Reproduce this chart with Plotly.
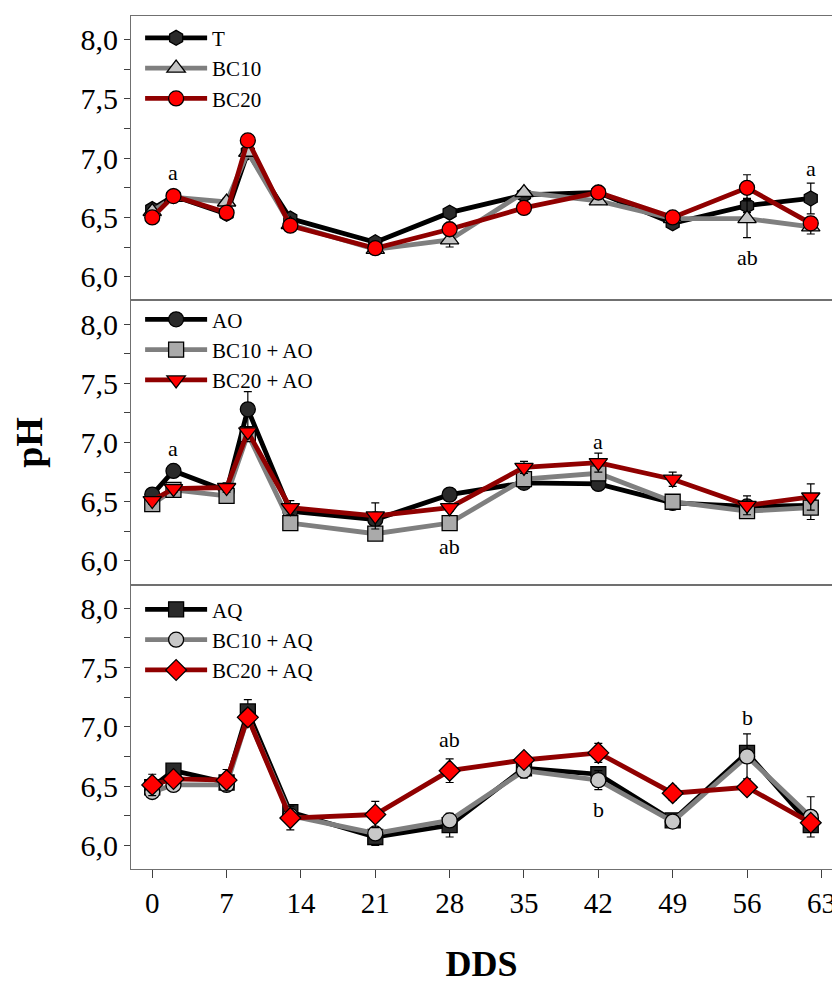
import plotly.graph_objects as go
from plotly.subplots import make_subplots

# ---------------- data ----------------
days = [0, 2, 7, 9, 13, 21, 28, 35, 42, 49, 56, 62]
x_ticks = [0, 7, 14, 21, 28, 35, 42, 49, 56, 63]
y_ticks = [6.0, 6.5, 7.0, 7.5, 8.0]
y_tick_labels = ["6,0", "6,5", "7,0", "7,5", "8,0"]

# panel 1
T = [6.57, 6.68, 6.53, 7.05, 6.49, 6.29, 6.54, 6.69, 6.71, 6.45, 6.60, 6.66]
T_err = [0.03, 0.03, 0.03, 0.04, 0.03, 0.03, 0.03, 0.03, 0.03, 0.03, 0.06, 0.13]
BC10 = [6.55, 6.67, 6.63, 7.05, 6.44, 6.23, 6.31, 6.71, 6.64, 6.49, 6.49, 6.42]
BC10_err = [0.03, 0.03, 0.03, 0.04, 0.03, 0.03, 0.06, 0.03, 0.03, 0.03, 0.16, 0.06]
BC20 = [6.50, 6.68, 6.54, 7.15, 6.43, 6.24, 6.40, 6.58, 6.71, 6.50, 6.75, 6.45]
BC20_err = [0.03, 0.03, 0.03, 0.03, 0.03, 0.03, 0.03, 0.03, 0.03, 0.03, 0.11, 0.05]

# panel 2
AO = [6.56, 6.76, 6.59, 7.28, 6.42, 6.35, 6.56, 6.66, 6.65, 6.49, 6.46, 6.47]
AO_err = [0.03, 0.03, 0.03, 0.15, 0.03, 0.05, 0.03, 0.03, 0.03, 0.03, 0.03, 0.05]
BC10_AO = [6.48, 6.60, 6.55, 7.07, 6.32, 6.23, 6.32, 6.69, 6.74, 6.50, 6.42, 6.45]
BC10_AO_err = [0.04, 0.03, 0.03, 0.04, 0.03, 0.03, 0.03, 0.03, 0.03, 0.03, 0.03, 0.10]
BC20_AO = [6.51, 6.61, 6.62, 7.09, 6.45, 6.38, 6.45, 6.79, 6.83, 6.69, 6.47, 6.54]
BC20_AO_err = [0.03, 0.03, 0.04, 0.04, 0.06, 0.11, 0.03, 0.05, 0.08, 0.06, 0.08, 0.11]

# panel 3
AQ = [6.49, 6.63, 6.53, 7.13, 6.28, 6.07, 6.17, 6.65, 6.60, 6.21, 6.78, 6.17]
AQ_err = [0.03, 0.04, 0.03, 0.10, 0.03, 0.07, 0.10, 0.03, 0.03, 0.03, 0.05, 0.06]
BC10_AQ = [6.45, 6.51, 6.51, 7.08, 6.25, 6.10, 6.21, 6.63, 6.55, 6.20, 6.75, 6.24]
BC10_AQ_err = [0.03, 0.04, 0.03, 0.05, 0.03, 0.03, 0.03, 0.06, 0.08, 0.03, 0.19, 0.17]
BC20_AQ = [6.51, 6.56, 6.55, 7.08, 6.23, 6.26, 6.63, 6.72, 6.78, 6.44, 6.49, 6.19]
BC20_AQ_err = [0.09, 0.03, 0.09, 0.06, 0.10, 0.11, 0.10, 0.03, 0.08, 0.06, 0.03, 0.05]

# significance letters: (panel row, day, pH position, text)
ann_rows = [1, 1, 1, 2, 2, 2, 3, 3, 3]
ann_days = [2, 62, 56, 2, 28, 42, 28, 42, 56]
ann_vals = [6.88, 6.91, 6.16, 6.95, 6.12, 7.01, 6.89, 6.30, 7.08]
ann_text = ["a", "a", "ab", "a", "ab", "a", "ab", "b", "b"]

# ---------------- styling ----------------
FONT = "Liberation Serif, Times New Roman, serif"
BLACK_LINE, GRAY_LINE, RED_LINE = "#000000", "#7f7f7f", "#900000"

series = [
    # row, name, y, err, line colour, symbol, marker fill
    (1, "T", T, T_err, BLACK_LINE, "hexagon", "#2a2a2a"),
    (1, "BC10", BC10, BC10_err, GRAY_LINE, "triangle-up", "#c4c4c4"),
    (1, "BC20", BC20, BC20_err, RED_LINE, "circle", "#ff0000"),
    (2, "AO", AO, AO_err, BLACK_LINE, "circle", "#2a2a2a"),
    (2, "BC10 + AO", BC10_AO, BC10_AO_err, GRAY_LINE, "square", "#aaaaaa"),
    (2, "BC20 + AO", BC20_AO, BC20_AO_err, RED_LINE, "triangle-down", "#ff0000"),
    (3, "AQ", AQ, AQ_err, BLACK_LINE, "square", "#2a2a2a"),
    (3, "BC10 + AQ", BC10_AQ, BC10_AQ_err, GRAY_LINE, "circle", "#c8c8c8"),
    (3, "BC20 + AQ", BC20_AQ, BC20_AQ_err, RED_LINE, "diamond", "#ff0000"),
]

fig = make_subplots(rows=3, cols=1, shared_xaxes=True, vertical_spacing=0)

legend_ids = {1: "legend", 2: "legend2", 3: "legend3"}
for row, name, yv, ev, lc, sym, fill in series:
    size = 15 if sym not in ("triangle-up", "triangle-down", "diamond") else 16
    fig.add_trace(
        go.Scatter(
            x=days, y=yv, name=name, mode="lines+markers",
            line=dict(color=lc, width=4.8),
            marker=dict(symbol=sym, size=size, color=fill,
                        line=dict(color="#000000", width=1.3)),
            error_y=dict(type="data", array=ev, visible=True,
                         color="#000000", thickness=1.2, width=4),
            legend=legend_ids[row],
        ),
        row=row, col=1,
    )

for r, d, v, t in zip(ann_rows, ann_days, ann_vals, ann_text):
    fig.add_annotation(x=d, y=v, text=t, showarrow=False,
                       font=dict(family=FONT, size=22, color="#000"),
                       xref="x" if r == 1 else f"x{r}",
                       yref="y" if r == 1 else f"y{r}")

axis_line = dict(showline=True, linecolor="#707070", linewidth=1, mirror=True,
                 automargin=False)

for r in (1, 2, 3):
    fig.update_yaxes(
        range=[5.8, 8.2], tickvals=y_ticks, ticktext=y_tick_labels,
        ticks="outside", ticklen=6, tickcolor="#404040", tickwidth=1,
        minor=dict(tickvals=[6.25, 6.75, 7.25, 7.75], ticks="outside",
                   ticklen=6, tickcolor="#404040", tickwidth=1),
        tickfont=dict(family=FONT, size=30, color="#000"),
        showgrid=False, zeroline=False, **axis_line,
        row=r, col=1,
    )
    fig.update_xaxes(
        range=[-2, 64], tickvals=x_ticks, ticktext=[str(v) for v in x_ticks],
        showgrid=False, zeroline=False, **axis_line,
        row=r, col=1,
    )

fig.update_xaxes(ticks="", showticklabels=False, row=1, col=1)
fig.update_xaxes(ticks="", showticklabels=False, row=2, col=1)
fig.update_xaxes(
    ticks="outside", ticklen=8, tickcolor="#404040", showticklabels=True,
    tickfont=dict(family=FONT, size=29, color="#000"),
    title=dict(text="DDS", font=dict(family=FONT, size=36, color="#000", weight="bold"),
               standoff=33),
    row=3, col=1,
)
fig.update_yaxes(
    title=dict(text="pH", font=dict(family=FONT, size=38, color="#000", weight="bold"),
               standoff=26),
    row=2, col=1,
)

leg_common = dict(xref="paper", yref="paper", xanchor="left", yanchor="top",
                  bgcolor="rgba(0,0,0,0)", borderwidth=0, itemwidth=62,
                  font=dict(family=FONT, size=21, color="#000"),
                  tracegroupgap=0)
fig.update_layout(
    width=840, height=983,
    margin=dict(l=123, r=16, t=8, b=122),
    paper_bgcolor="white", plot_bgcolor="white",
    showlegend=True,
    legend=dict(x=0.013, y=0.998, **leg_common),
    legend2=dict(x=0.013, y=0.668, **leg_common),
    legend3=dict(x=0.013, y=0.328, **leg_common),
)

fig.write_html("out.html")
